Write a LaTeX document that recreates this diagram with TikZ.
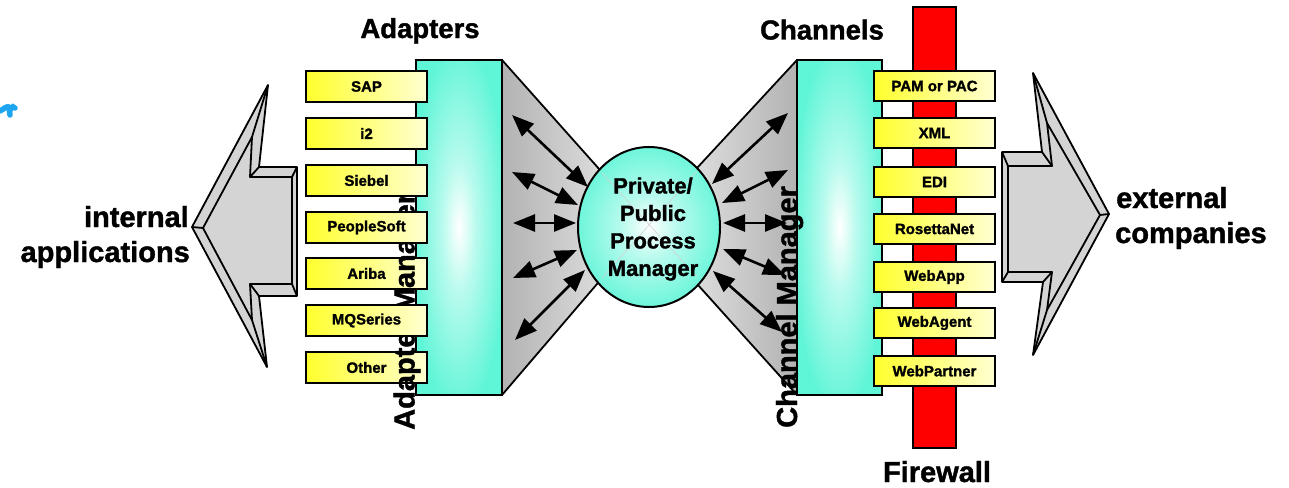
\documentclass[tikz,border=0pt]{standalone}
\usepackage{fontspec}
\setmainfont{Liberation Sans}[BoldFeatures={FakeBold=1.4}]
\usetikzlibrary{shapes.geometric,arrows.meta}
\definecolor{panelcyan}{RGB}{95,245,215}
\definecolor{arrowgray}{RGB}{212,212,212}
\definecolor{boxyellow}{RGB}{255,255,45}
\definecolor{boxpale}{RGB}{255,255,210}
\definecolor{squiggle}{RGB}{30,165,240}
\pgfdeclareradialshading{panelglow}{\pgfpoint{0bp}{0bp}}{color(0bp)=(white); color(10bp)=(white!55!panelcyan); color(28bp)=(panelcyan); color(50bp)=(panelcyan)}
\newcommand\myfs[2]{\fontsize{#1}{#2}\selectfont}
\begin{document}
\begin{tikzpicture}[x=1pt,y=-1pt,
  bevel/.style={draw=black, line width=1.8pt, fill=arrowgray, line join=round},
  bevelline/.style={draw=black, line width=1.8pt, line join=round},
  cone/.style={draw=black, line width=1.8pt, line join=round},
  panel/.style={draw=black, line width=2pt, shading=panelglow, inner sep=0pt},
  appbox/.style={draw=black, line width=2pt, left color=boxyellow, right color=boxpale, minimum width=121pt, minimum height=31pt, inner sep=0pt, font=\bfseries\myfs{15}{18}},
  chanbox/.style={appbox, minimum height=30pt},
  dblarrow/.style={line width=2.6pt, {Triangle[length=22pt,width=17pt]}-{Triangle[length=22pt,width=17pt]}},
  biglabel/.style={font=\bfseries\myfs{29}{34}, inner sep=0pt},
  headtext/.style={font=\bfseries\myfs{27.5}{32}, inner sep=0pt}]
\useasboundingbox (0,0) rectangle (1289,487);

% blue squiggle remnant
\draw[squiggle, line width=5.5pt, line cap=round, line join=round]
  (0,111) .. controls (4,109) and (6,106) .. (9,107)
  .. controls (10,110) and (9,113) .. (10,115);
\draw[squiggle, line width=5.5pt, line cap=round]
  (10,110) .. controls (12,106) and (14,106) .. (15,108);

% left big arrow (beveled)
\filldraw[bevel] (192,227) -- (268,85) -- (259,167) -- (297,167) -- (297,296) -- (259,296) -- (267,367) -- cycle;
\draw[bevelline] (203,228) -- (252,137) -- (250,177) -- (292,177) -- (292,284) -- (250,284) -- (252,320) -- cycle;
\draw[bevelline] (192,227) -- (203,228) (268,85) -- (252,137) (259,167) -- (250,177)
  (297,167) -- (292,177) (297,296) -- (292,284) (259,296) -- (250,284) (267,367) -- (252,320);

% right big arrow (beveled)
\filldraw[bevel] (1109,214) -- (1033,73) -- (1042,152) -- (1002,152) -- (1002,282) -- (1043,282) -- (1033,355) -- cycle;
\draw[bevelline] (1100,215) -- (1047,123) -- (1052,166) -- (1008,166) -- (1008,272) -- (1052,272) -- (1047,310) -- cycle;
\draw[bevelline] (1109,214) -- (1100,215) (1033,73) -- (1047,123) (1042,152) -- (1052,166)
  (1002,152) -- (1008,166) (1002,282) -- (1008,272) (1043,282) -- (1052,272) (1033,355) -- (1047,310);

% cones
\path[cone, left color=gray!60, right color=gray!12] (502,60) -- (600,170) -- (649,227) -- (597,284) -- (502,395) -- cycle;
\path[cone, left color=gray!12, right color=gray!60] (797,60) -- (697,168) -- (649,227) -- (698,285) -- (797,395) -- cycle;

% panels
\node[panel, minimum width=86pt, minimum height=335pt] (adapterpanel) at (459,227.5) {};
\node[panel, minimum width=85pt, minimum height=335pt] (channelpanel) at (839.5,227.5) {};

% firewall
\node[draw=black, line width=2pt, fill=red, minimum width=43pt, minimum height=441pt, inner sep=0pt] (firewall) at (934.5,227.5) {};

% channel boxes
\node[chanbox] (pam) at (934.5,86) {PAM or PAC};
\node[chanbox] (xml) at (934.5,133) {XML};
\node[chanbox] (edi) at (934.5,182) {EDI};
\node[chanbox] (rosetta) at (934.5,229) {RosettaNet};
\node[chanbox] (webapp) at (934.5,277) {WebApp};
\node[chanbox] (webagent) at (934.5,323) {WebAgent};
\node[chanbox] (webpartner) at (934.5,371) {WebPartner};

% adapter boxes (first layer)
\node[appbox] (sap) at (366.5,86.5) {SAP};
\node[appbox] (itwo) at (366.5,133.5) {i2};
\node[appbox] (ariba) at (366.5,273.5) {Ariba};
\node[appbox] (other) at (366.5,367.5) {Other};
% rotated label
\node[biglabel, rotate=90, anchor=base west] (adaptermgr) at (414.5,430) {Adapter Manager};
% adapter boxes (second layer)
\node[appbox] (siebel) at (366.5,180.5) {Siebel};
\node[appbox] (peoplesoft) at (366.5,227.5) {PeopleSoft};
\node[appbox] (mqseries) at (366.5,320.5) {MQSeries};

% process manager
\node[ellipse, draw=black, line width=2pt, minimum width=142pt, minimum height=160pt, inner sep=0pt, shading=panelglow] (ppm) at (649,227) {};
\draw[gray!35, line width=0.6pt] (602,173) -- (697,277) (602,278) -- (697,171);
\node[font=\bfseries\myfs{22}{27.5}, align=center, inner sep=0pt] (ppmtext) at (653,229) {Private/\\Public\\Process\\Manager};

% double arrows, left
\coordinate (la1) at (512,115); \coordinate (lb1) at (588,187);
\coordinate (la2) at (512,172); \coordinate (lb2) at (578,205);
\coordinate (la3) at (513,223); \coordinate (lb3) at (576,223);
\coordinate (la4) at (513,278); \coordinate (lb4) at (577,250);
\coordinate (la5) at (515,340); \coordinate (lb5) at (585,270);
\foreach \i in {1,...,5} {\draw[dblarrow] (la\i) -- (lb\i);}
% double arrows, right
\coordinate (ra1) at (712,184); \coordinate (rb1) at (788,113);
\coordinate (ra2) at (722,203); \coordinate (rb2) at (788,170);
\coordinate (ra3) at (723,223); \coordinate (rb3) at (787,223);
\coordinate (ra4) at (723,249); \coordinate (rb4) at (785,275);
\coordinate (ra5) at (713,271); \coordinate (rb5) at (782,332);
\foreach \i in {1,...,5} {\draw[dblarrow] (ra\i) -- (rb\i);}

\node[biglabel, rotate=90, anchor=base west] (channelmgr) at (797,428) {Channel Manager};

% labels
\node[headtext, anchor=base] (adapters) at (420,38) {Adapters};
\node[headtext, anchor=base] (channels) at (822,39.5) {Channels};
\node[biglabel, anchor=base] (firewalltext) at (937,482) {Firewall};
\node[biglabel, anchor=base east] (internal) at (189,227) {internal};
\node[biglabel, anchor=base east] (applications) at (190,262) {applications};
\node[biglabel, anchor=base west] (external) at (1116,208) {external};
\node[biglabel, anchor=base west] (companies) at (1115,243) {companies};
\end{tikzpicture}
\end{document}
